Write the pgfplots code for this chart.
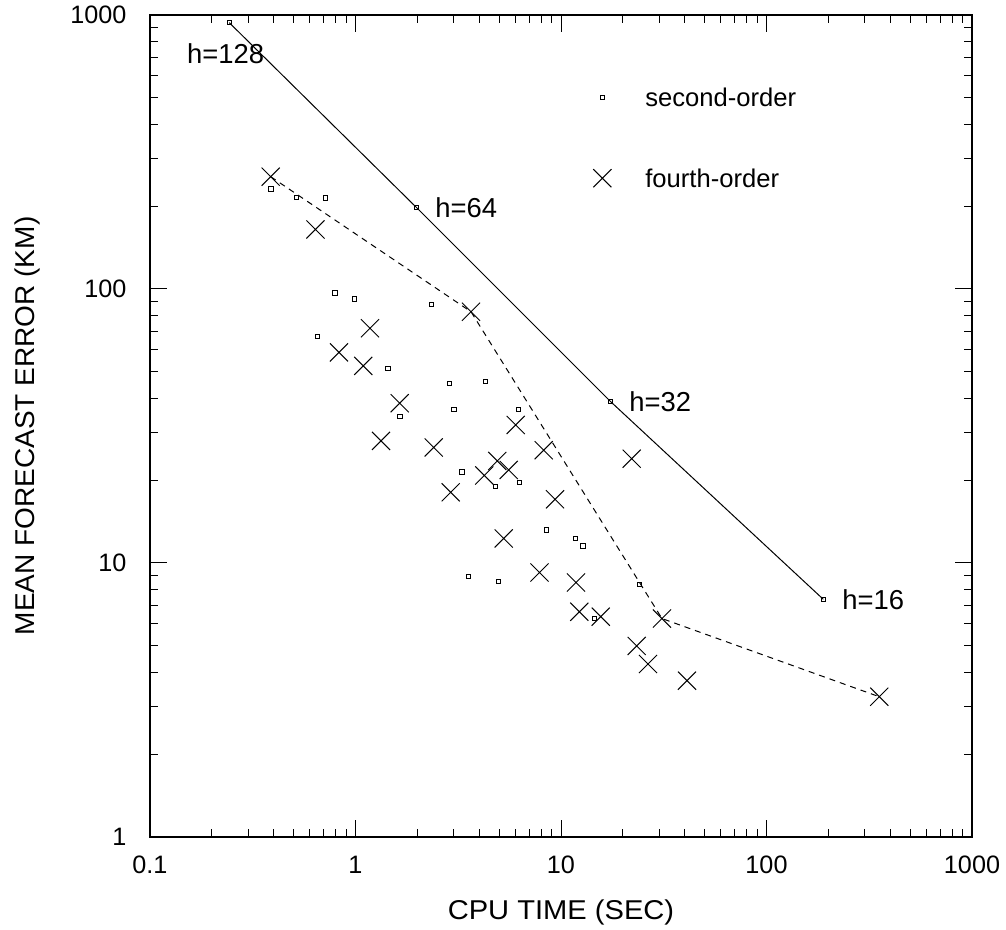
\documentclass[border=0pt]{standalone}
\usepackage{fontspec}
\setmainfont{Liberation Sans}
\usepackage{graphicx}
\usepackage{pgfplots}
\pgfplotsset{compat=1.18}
\pgfplotsset{mylegimg/.style={legend image code/.code={\path[draw=none,fill=none] (0pt,-4.5pt) rectangle (20pt,4.5pt); \draw[mark repeat=1,##1] plot coordinates {(10pt,0pt)};}}}

\begin{document}
\begin{tikzpicture}
\begin{axis}[
  at={(0,0)}, anchor=south west,
  scale only axis, width=411pt, height=411pt,
  xmode=log, ymode=log,
  xmin=0.1, xmax=1000, ymin=1, ymax=1000,
  xtick={0.1,1,10,100,1000}, xticklabels={0.1,1,10,100,1000},
  ytick={1,10,100,1000}, yticklabels={1,10,100,1000},
  tick align=inside, major tick length=8.5pt, minor tick length=4pt,
  tick style={black, line width=0.5pt},
  axis line style={line width=0.6pt},
  /pgf/number format/assume math mode=true,
  ticklabel style={font=\fontsize{12.6}{14}\selectfont},
  xticklabel style={yshift=-5.8pt},
  yticklabel style={xshift=-8.3pt},
  xlabel={\scalebox{1.07}[1]{CPU TIME (SEC)}},
  ylabel={\scalebox{1.03}[1]{MEAN FORECAST ERROR (KM)}},
  label style={font=\fontsize{13.6}{15}\selectfont},
  xlabel style={at={(axis description cs:0.5,-0.0912)}, anchor=center},
  ylabel style={at={(axis description cs:-0.1496,0.5)}, anchor=center},
  legend style={draw=none, fill=none, at={(axis description cs:0.5255,0.9112)}, anchor=north west,
    inner sep=0pt, nodes={inner sep=0pt, text depth=0pt, font=\fontsize{12.8}{15}\selectfont},
    row sep=31pt, column sep=11.5pt},
  legend cell align=left,
]
% h lines (second-order, uniform refinement)
\addplot[black, line width=0.5pt, forget plot] coordinates {
  (0.2431,937.4) (1.976,198.7) (17.45,38.8) (189.0,7.37)};
% fourth-order envelope (dashed)
\addplot[black, line width=0.5pt, dash pattern=on 3pt off 2.5pt, forget plot] coordinates {
  (0.3867,257.0) (3.648,82.6) (31.0,6.27) (353.9,3.25)};
% second-order
\addplot[black, only marks, mark=square, mark size=1.1pt, mark options={line width=0.45pt}, mylegimg]
 coordinates {
  (0.2431,937.4) (1.976,198.7) (17.45,38.8) (189.0,7.37)
  (0.388,231.7) (0.5176,216.1) (0.7145,214.8) (0.7947,96.7) (0.9888,91.9)
  (2.348,87.9) (0.6531,67.2) (1.439,51.2) (2.860,45.3) (4.280,45.9)
  (3.008,36.4) (6.19,36.4) (1.646,34.2) (3.298,21.48) (4.789,19.07)
  (6.26,19.71) (8.48,13.2) (11.74,12.31) (12.80,11.53) (3.539,8.91)
  (4.964,8.56) (24.02,8.36) (14.51,6.28)};
\addlegendentry{second-order}
% fourth-order
\addplot[black, only marks, mark=x, mark size=6.4pt, mark options={line width=0.5pt}, mylegimg]
 coordinates {
  (0.3867,257.0) (0.6387,164.9) (3.648,82.6) (1.176,71.9) (0.831,58.7)
  (1.091,52.4) (1.641,38.3) (6.02,31.9) (1.331,27.9) (2.402,26.4)
  (8.24,25.8) (22.08,24.03) (4.898,23.57) (5.566,21.85) (4.234,20.86)
  (2.906,18.11) (9.35,17.08) (5.264,12.29) (7.86,9.23) (11.83,8.49)
  (12.28,6.64) (15.61,6.37) (31.0,6.27) (23.35,4.98) (26.51,4.28)
  (41.04,3.72) (353.9,3.25)};
\addlegendentry{fourth-order}
\node[anchor=west, inner sep=0pt, font=\fontsize{13.7}{15}\selectfont] at (axis cs:0.1509,720.5) {h=128};
\node[anchor=west, inner sep=0pt, font=\fontsize{13.7}{15}\selectfont] at (axis cs:2.437,197.5) {h=64};
\node[anchor=west, inner sep=0pt, font=\fontsize{13.7}{15}\selectfont] at (axis cs:21.42,38.7) {h=32};
\node[anchor=west, inner sep=0pt, font=\fontsize{13.7}{15}\selectfont] at (axis cs:233.1,7.36) {h=16};
\end{axis}
\pgfresetboundingbox
\path (-75pt,-46.5pt) rectangle (428pt,418.5pt);
\end{tikzpicture}
\end{document}
